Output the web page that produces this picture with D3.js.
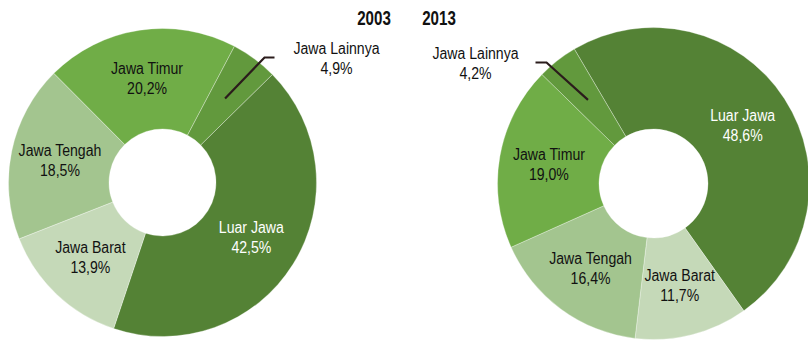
<!DOCTYPE html>
<html>
<head>
<meta charset="utf-8">
<script src="https://cdn.jsdelivr.net/npm/d3@7"></script>
<style>
  html, body { margin: 0; padding: 0; background: #fff; }
  svg { display: block; }
  text { font-family: "Liberation Sans", Arial, sans-serif; }
</style>
</head>
<body>
<svg id="chart" width="808" height="342"></svg>
<script>
// Regional shares, in percent, for two years
const categories = ["Luar Jawa", "Jawa Barat", "Jawa Tengah", "Jawa Timur", "Jawa Lainnya"];
const share2003 = [42.5, 13.9, 18.5, 20.2, 4.9];
const share2013 = [48.6, 11.7, 16.4, 19.0, 4.2];
const years = ["2003", "2013"];
const colors = ["#548235", "#c5d9b8", "#a3c58f", "#70ad47", "#62993d"];
const labelColors = ["#ffffff", "#111111", "#111111", "#111111", "#111111"];
// Slice drawn with a leader line and an outside label
const calloutCategory = "Jawa Lainnya";

const fmt = v => v.toFixed(1).replace(".", ",") + "%";
const deg = d => d * Math.PI / 180;

const svg = d3.select("#chart");

// Layout of each donut
const donuts = [
  { year: years[0], values: share2003, cx: 162.5, cy: 182.5, rOuter: 154, rInner: 53.5, start: 45.5,
    titleX: 374, side: 1, elbow: [102, -125], tail: 10, labelDx: 62 },
  { year: years[1], values: share2013, cx: 653.5, cy: 183.5, rOuter: 156, rInner: 54.5, start: -30.5,
    titleX: 439, side: -1, elbow: [-107, -121], tail: 11, labelDx: 60 }
];

// Condense a text element horizontally to a fraction of its natural width
function squeeze(sel, k) {
  sel.each(function () {
    const w = this.getComputedTextLength();
    d3.select(this).attr("textLength", w * k).attr("lengthAdjust", "spacingAndGlyphs");
  });
}

donuts.forEach(cfg => {
  const data = categories.map((c, i) => ({ name: c, value: cfg.values[i], color: colors[i], ink: labelColors[i] }));
  const pie = d3.pie().value(d => d.value).sort(null)
    .startAngle(deg(cfg.start)).endAngle(deg(cfg.start) + 2 * Math.PI);
  const arc = d3.arc().innerRadius(cfg.rInner).outerRadius(cfg.rOuter);
  const labelR = (cfg.rInner + cfg.rOuter) / 2 + 1;
  const labelArc = d3.arc().innerRadius(labelR).outerRadius(labelR);
  const arcs = pie(data);

  const g = svg.append("g").attr("transform", `translate(${cfg.cx},${cfg.cy})`);

  g.selectAll("path.slice").data(arcs).join("path")
    .attr("class", "slice")
    .attr("d", arc)
    .attr("fill", d => d.data.color)
    .attr("stroke", "rgba(255,255,255,0.45)")
    .attr("stroke-width", 0.7);

  // Inside labels
  const inside = arcs.filter(d => d.data.name !== calloutCategory);
  const lab = g.selectAll("g.lab").data(inside).join("g")
    .attr("class", "lab")
    .attr("transform", d => `translate(${labelArc.centroid(d)})`);
  lab.append("text").attr("text-anchor", "middle").attr("y", -5)
    .attr("font-size", 16).attr("fill", d => d.data.ink)
    .text(d => d.data.name).call(squeeze, 0.88);
  lab.append("text").attr("text-anchor", "middle").attr("y", 15)
    .attr("font-size", 16).attr("fill", d => d.data.ink)
    .text(d => fmt(d.data.value)).call(squeeze, 0.88);

  // Callout slice: leader line from the slice centroid to an elbow, then a short horizontal tail
  const co = arcs.find(d => d.data.name === calloutCategory);
  const p0 = labelArc.centroid(co);
  const p1 = cfg.elbow;
  const p2 = [p1[0] + cfg.side * cfg.tail, p1[1]];
  g.append("path")
    .attr("d", d3.line()([p0, p1, p2]))
    .attr("fill", "none")
    .attr("stroke", "#2b1c1c")
    .attr("stroke-width", 2.2);
  const lx = p2[0] + cfg.side * cfg.labelDx;
  g.append("text").attr("x", lx).attr("y", p1[1] - 4).attr("text-anchor", "middle")
    .attr("font-size", 16).attr("fill", "#111")
    .text(co.data.name).call(squeeze, 0.88);
  g.append("text").attr("x", lx).attr("y", p1[1] + 16).attr("text-anchor", "middle")
    .attr("font-size", 16).attr("fill", "#111")
    .text(fmt(co.data.value)).call(squeeze, 0.88);

  // Year title
  svg.append("text").attr("x", cfg.titleX).attr("y", 25).attr("text-anchor", "middle")
    .attr("font-size", 21).attr("font-weight", "bold").attr("fill", "#111")
    .text(cfg.year).call(squeeze, 0.72);
});
</script>
</body>
</html>
